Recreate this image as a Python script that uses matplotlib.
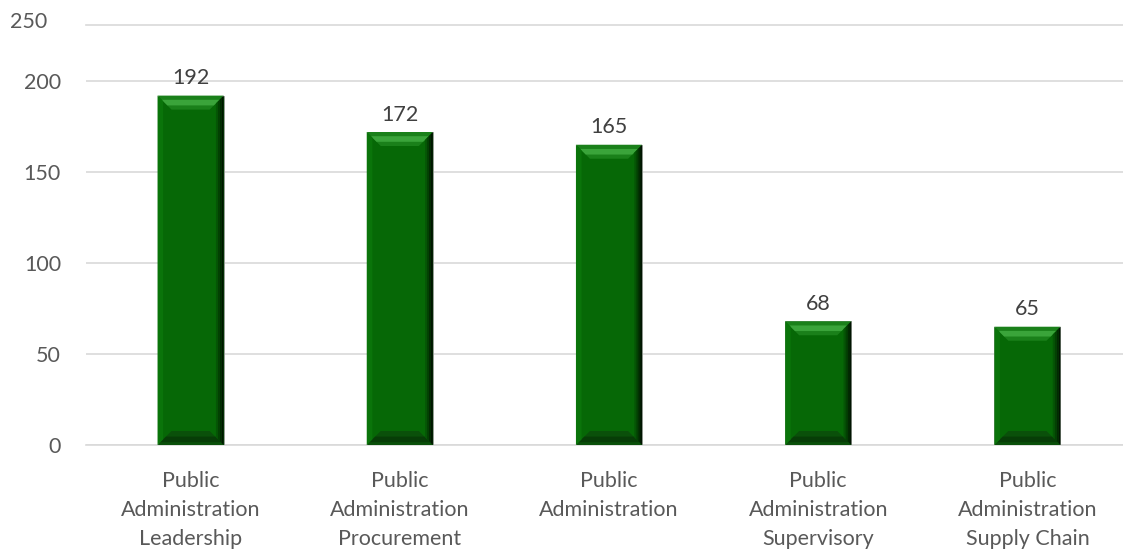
import matplotlib
matplotlib.use("Agg")
import matplotlib.pyplot as plt
from matplotlib.patches import Polygon

categories = [
    "Public\nAdministration\nLeadership",
    "Public\nAdministration\nProcurement",
    "Public\nAdministration",
    "Public\nAdministration\nSupervisory",
    "Public\nAdministration\nSupply Chain",
]
counts = [192, 172, 165, 68, 65]
y_ticks = [0, 50, 100, 150, 200]
y_top_label = 250

plt.rcParams['font.family'] = ['Lato', 'DejaVu Sans']
txt_color = "#595959"
fs = 15.5

W, H = 1123, 556
fig = plt.figure(figsize=(W / 100, H / 100), dpi=100)
ax_l, ax_r, ax_b, ax_t = 86, 1132, 445, 25
ax = fig.add_axes([ax_l / W, (H - ax_b) / H, (ax_r - ax_l) / W, (ax_b - ax_t) / H])

ymax = 230.8
ax.set_xlim(-0.5, len(counts) - 0.5)
ax.set_ylim(0, ymax)

bw = 0.316
xs = list(range(len(counts)))
bars = ax.bar(xs, counts, width=bw, color="#066806", edgecolor="#9a9a9a",
              linewidth=0.6, zorder=3)

# bevel effect, sized in pixels
px_x = (ax_r - ax_l) / len(counts)
px_y = (ax_b - ax_t) / ymax
dx, dy = 14 / px_x, 14 / px_y
for b in bars:
    x0, x1 = b.get_x(), b.get_x() + b.get_width()
    y1 = b.get_height()
    # top face
    ax.add_patch(Polygon([(x0, y1), (x1, y1), (x1 - dx, y1 - dy), (x0 + dx, y1 - dy)],
                         closed=True, color="#1a801a", lw=0, zorder=4))
    ax.add_patch(Polygon([(x0 + dx * 0.3, y1 - dy * 0.3), (x1 - dx * 0.3, y1 - dy * 0.3),
                          (x1 - dx * 0.7, y1 - dy * 0.7), (x0 + dx * 0.7, y1 - dy * 0.7)],
                         closed=True, color="#3aa43a", lw=0, zorder=4))
    # bottom face
    ax.add_patch(Polygon([(x0, 0), (x1, 0), (x1 - dx, dy), (x0 + dx, dy)],
                         closed=True, color="#0a500a", lw=0, zorder=4))
    ax.add_patch(Polygon([(x0 + dx * 0.2, dy * 0.2), (x1 - dx * 0.2, dy * 0.2),
                          (x1 - dx * 0.6, dy * 0.6), (x0 + dx * 0.6, dy * 0.6)],
                         closed=True, color="#073d07", lw=0, zorder=4))
    # left face
    ax.add_patch(Polygon([(x0, 0), (x0 + dx * 0.4, dy * 0.4), (x0 + dx * 0.4, y1 - dy * 0.4), (x0, y1)],
                         closed=True, color="#0a740a", lw=0, zorder=4))
    # right face, darkening towards the edge
    shades = ["#055505", "#034003", "#022a02", "#011401"]
    n = len(shades)
    for i, c in enumerate(shades):
        a = 0.55 * i / n
        bb = 0.55 * (i + 1) / n
        ax.add_patch(Polygon([(x1 - dx * (0.55 - a), dy * (0.55 - a)), (x1 - dx * (0.55 - bb), dy * (0.55 - bb)),
                              (x1 - dx * (0.55 - bb), y1 - dy * (0.55 - bb)), (x1 - dx * (0.55 - a), y1 - dy * (0.55 - a))],
                             closed=True, color=c, lw=0, zorder=4))
    ax.text(b.get_x() + b.get_width() / 2, y1 + 4, str(int(y1)), ha="center", va="bottom",
            fontsize=fs, color="#404040", zorder=5)

ax.set_yticks(y_ticks)
ax.set_yticklabels([str(v) for v in y_ticks])
ax.set_xticks(xs)
ax.set_xticklabels(categories, linespacing=1.55)
ax.tick_params(axis="y", length=0, pad=18, labelsize=fs, labelcolor=txt_color)
ax.tick_params(axis="x", length=0, pad=19, labelsize=fs, labelcolor=txt_color)
ax.grid(axis="y", color="#d9d9d9", linewidth=1.2, zorder=0)
for s in ["left", "right"]:
    ax.spines[s].set_visible(False)
for s in ["top", "bottom"]:
    ax.spines[s].set_color("#d9d9d9")
    ax.spines[s].set_linewidth(1.2)

# stray top tick label of the original
fig.text(10 / W, 1 - 22 / H, str(y_top_label), ha="left", va="center",
         fontsize=fs, color=txt_color)

fig.savefig("out.png", dpi=100, facecolor="white")
